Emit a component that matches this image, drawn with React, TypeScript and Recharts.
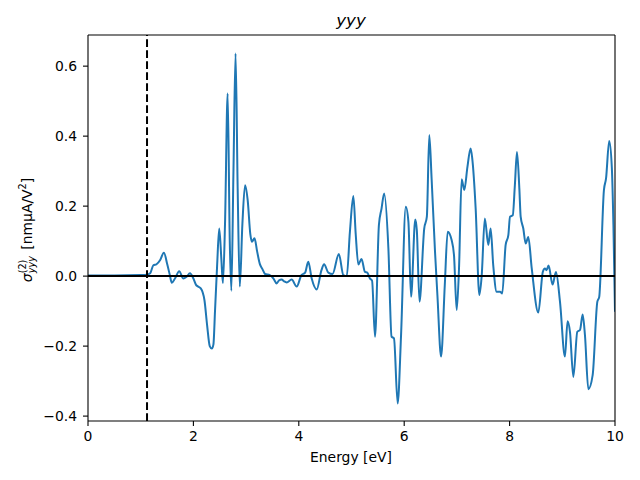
import { LineChart, Line, XAxis, YAxis, ReferenceLine } from 'recharts';

// energy grid (eV) and sigma^(2)_yyy values
const energy = [
  0, 0.5, 1.0, 1.12, 1.18, 1.24, 1.3, 1.37, 1.44, 1.505, 1.55, 1.59, 1.65, 1.73, 1.81, 1.87,
  1.935, 2.0, 2.05, 2.09, 2.14, 2.21, 2.26, 2.31, 2.35, 2.38, 2.41, 2.45, 2.49, 2.53, 2.56, 2.6,
  2.65, 2.69, 2.72, 2.76, 2.8, 2.84, 2.88, 2.93, 2.98, 3.03, 3.08, 3.11, 3.16, 3.21, 3.26, 3.31,
  3.36, 3.45, 3.52, 3.58, 3.625, 3.675, 3.72, 3.77, 3.865, 3.96, 4.05, 4.12, 4.18, 4.245, 4.34,
  4.43, 4.48, 4.56, 4.64, 4.76, 4.845, 4.91, 4.97, 5.035, 5.08, 5.13, 5.19, 5.256, 5.3, 5.35,
  5.39, 5.446, 5.52, 5.57, 5.62, 5.7, 5.76, 5.806, 5.876, 5.94, 6.03, 6.08, 6.13, 6.21, 6.24,
  6.29, 6.38, 6.43, 6.476, 6.52, 6.585, 6.63, 6.7, 6.77, 6.825, 6.9, 6.945, 6.996, 7.04, 7.09,
  7.14, 7.2, 7.26, 7.29, 7.356, 7.426, 7.47, 7.53, 7.596, 7.64, 7.69, 7.755, 7.82, 7.86, 7.925,
  7.976, 8.008, 8.06, 8.1, 8.14, 8.185, 8.21, 8.26, 8.305, 8.355, 8.42, 8.545, 8.63, 8.67, 8.7,
  8.74, 8.815, 8.88, 8.956, 9.05, 9.1, 9.146, 9.21, 9.285, 9.336, 9.386, 9.43, 9.494, 9.576,
  9.665, 9.7, 9.79, 9.83, 9.89, 9.94, 9.97, 10.0,
];

const sigma = [
  0.002, 0.002, 0.003, 0.004, 0.008, 0.031, 0.034, 0.046, 0.067, 0.033, 0.005, -0.019, -0.007,
  0.014, -0.007, -0.002, 0.008, -0.007, -0.025, -0.03, -0.035, -0.069, -0.14, -0.2, -0.207,
  -0.195, -0.1, 0.03, 0.136, 0.05, -0.02, 0.15, 0.522, 0.1, -0.042, 0.3, 0.636, 0.25, -0.03,
  0.15, 0.26, 0.217, 0.12, 0.098, 0.108, 0.07, 0.035, 0.02, 0.006, 0.003, -0.007, -0.021,
  -0.012, -0.01, -0.015, -0.018, -0.01, -0.03, 0.003, 0.01, 0.041, -0.007, -0.038, 0.017, 0.034,
  0.01, 0.006, 0.063, 0.003, 0.0, 0.127, 0.229, 0.12, 0.033, 0.049, 0.012, 0.01, -0.007, -0.013,
  -0.173, 0.146, 0.193, 0.236, 0.079, -0.173, -0.178, -0.364, -0.17, 0.198, 0.155, -0.059, 0.162,
  0.13, -0.073, 0.136, 0.17, 0.403, 0.279, 0.069, -0.054, -0.23, -0.026, 0.127, 0.103, 0.06,
  -0.097, 0.022, 0.277, 0.246, 0.312, 0.365, 0.338, 0.193, -0.054, 0.0, 0.165, 0.089, 0.136, 0.03,
  -0.045, -0.045, -0.05, 0.089, 0.117, 0.17, 0.174, 0.26, 0.355, 0.25, 0.17, 0.136, 0.093, 0.112,
  0.022, -0.104, 0.012, 0.022, 0.017, 0.03, -0.024, 0.012, -0.073, -0.23, -0.129, -0.16, -0.288,
  -0.159, -0.154, -0.11, -0.169, -0.323, -0.283, -0.073, -0.06, 0.246, 0.279, 0.386, 0.31, 0.146,
  -0.102,
];

const xTicks = [0, 2, 4, 6, 8, 10];
const yTicks = [-0.4, -0.2, 0.0, 0.2, 0.4, 0.6];
const xDomain = [0, 10];
const yDomain = [-0.414, 0.689];
const gapEnergy = 1.12;

const FONT = 'DejaVu Sans';
const tickStyle = { fill: '#000', fontSize: 13.9, fontFamily: FONT };

export default function App() {
  const data = energy.map((e, i) => ({ energy: e, sigma: sigma[i] }));

  return (
    <div style={{ position: 'absolute', left: 0, top: 0, width: 640, height: 480, background: '#fff' }}>
      <LineChart width={640} height={480} data={data} margin={{ top: 35, right: 25, bottom: 0, left: 0 }}>
        <XAxis
          dataKey="energy"
          type="number"
          domain={xDomain}
          ticks={xTicks}
          height={59}
          tickSize={5}
          tickMargin={5}
          tick={tickStyle}
          stroke="#000"
          strokeWidth={1.1}
          allowDataOverflow
        />
        <YAxis
          type="number"
          domain={yDomain}
          ticks={yTicks}
          width={88}
          tickSize={5}
          tickMargin={6}
          tick={tickStyle}
          stroke="#000"
          strokeWidth={1.1}
          allowDataOverflow
          tickFormatter={(v: number) => v.toFixed(1).replace('-', '\u2212')}
        />
        <Line
          type="monotone"
          dataKey="sigma"
          stroke="#1f77b4"
          strokeWidth={2}
          dot={false}
          isAnimationActive={false}
        />
        <ReferenceLine y={0} stroke="#000" strokeWidth={2} />
        <ReferenceLine x={gapEnergy} stroke="#000" strokeWidth={2} strokeDasharray="7.7 3.3" />
        {/* top and right spines */}
        <ReferenceLine y={yDomain[1]} stroke="#000" strokeWidth={1.1} />
        <ReferenceLine x={xDomain[1]} stroke="#000" strokeWidth={1.1} />
      </LineChart>
      <svg
        width={640}
        height={480}
        style={{ position: 'absolute', left: 0, top: 0, pointerEvents: 'none' }}
        fontFamily={FONT}
      >
        <text x={351} y={26} textAnchor="middle" fontSize={16.7} fontStyle="italic">
          yyy
        </text>
        <text x={351} y={462} textAnchor="middle" fontSize={13.9}>
          Energy [eV]
        </text>
        <text transform="translate(32,230) rotate(-90)" textAnchor="middle" fontSize={13.9}>
          <tspan fontStyle="italic">σ</tspan>
          <tspan dy={-6} fontSize={9.7}>(2)</tspan>
          <tspan dx={-13.7} dy={9} fontSize={9.7} fontStyle="italic">yyy</tspan>
          <tspan dy={-3} dx={2}> [nmμA/V</tspan>
          <tspan dy={-6} fontSize={9.7}>2</tspan>
          <tspan dy={6}>]</tspan>
        </text>
      </svg>
    </div>
  );
}
